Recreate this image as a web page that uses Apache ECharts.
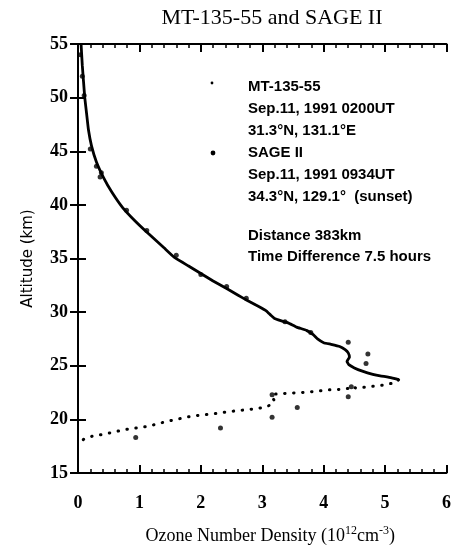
<!DOCTYPE html>
<html>
<head>
<meta charset="utf-8">
<script src="https://cdn.jsdelivr.net/npm/echarts@6/dist/echarts.min.js"></script>
<style>html,body{margin:0;padding:0;background:#fff}#chart{width:454px;height:550px}</style>
</head>
<body>
<div id="chart"></div>
<script>
// MT-135-55 profile, upper (continuous) part: [ozone density 1e12 cm^-3, altitude km]
const mtUpper = [[0.05,55],[0.07,53],[0.09,51.5],[0.11,50],[0.14,48.5],[0.17,47],[0.22,45.5],[0.3,44],[0.42,42.5],[0.55,41.2],[0.72,39.8],[0.93,38.5],[1.15,37.3],[1.4,36],[1.57,35.1],[1.8,34.3],[2.0,33.6],[2.2,32.9],[2.42,32.2],[2.6,31.6],[2.75,31.1],[2.95,30.5],[3.07,30.1],[3.14,29.7],[3.2,29.4],[3.3,29.2],[3.42,29.0],[3.56,28.6],[3.72,28.3],[3.83,27.9],[3.9,27.5],[4.0,27.15],[4.12,27.0],[4.26,26.8],[4.35,26.5],[4.4,26.2],[4.42,25.8],[4.38,25.4],[4.41,25.1],[4.5,24.8],[4.63,24.5],[4.8,24.2],[4.92,24.05],[5.05,23.95],[5.16,23.8],[5.22,23.7]];
// MT-135-55 profile, lower (dotted) part
const mtLower = [[5.22,23.7],[5.2,23.5],[5.1,23.35],[4.97,23.2],[4.82,23.1],[4.67,23.0],[4.53,22.9],[4.45,23.1],[4.42,22.9],[4.26,22.8],[4.07,22.75],[3.85,22.6],[3.64,22.5],[3.46,22.45],[3.31,22.4],[3.2,22.35],[3.15,22.1],[3.2,21.75],[3.15,21.4],[3.06,21.15],[2.9,21.0],[2.74,20.9],[2.58,20.8],[2.42,20.7],[2.24,20.55],[2.08,20.45],[1.92,20.35],[1.76,20.2],[1.6,20.0],[1.44,19.8],[1.27,19.55],[1.15,19.35],[0.95,19.2],[0.76,19.05],[0.57,18.8],[0.4,18.6],[0.24,18.45],[0.11,18.2],[0.04,17.95]];
// SAGE II points
const sage = [[4.4,27.2],[4.72,26.1],[4.69,25.2],[4.4,22.1],[3.57,21.1],[3.16,20.2],[2.32,19.2],[0.94,18.3],[3.16,22.3],[4.45,23.05],[3.79,28.1],[3.37,29.1],[2.74,31.3],[2.42,32.4],[2.0,33.5],[1.6,35.3],[1.12,37.6],[0.79,39.5],[0.36,42.6],[0.38,43.0],[0.3,43.6],[0.2,45.2],[0.1,50.2],[0.07,52],[0.04,54]];
const xTicks = [0,1,2,3,4,5,6];
const yTicks = [15,20,25,30,35,40,45,50,55];
const titleText = 'MT-135-55 and SAGE II';
const legend1 = ['MT-135-55','Sep.11, 1991 0200UT','31.3°N, 131.1°E'];
const legend2 = ['SAGE II','Sep.11, 1991 0934UT','34.3°N, 129.1°  (sunset)'];
const legend3 = ['Distance 383km','Time Difference 7.5 hours'];

const chart = echarts.init(document.getElementById('chart'));
const serif = 'Liberation Serif';
const xMin = xTicks[0], xMax = xTicks[xTicks.length-1];
const yMin = yTicks[0], yMax = yTicks[yTicks.length-1];
const axisLine = {show:true, lineStyle:{color:'#000', width:2}};
const majorTick = {inside:true, length:8, lineStyle:{color:'#000', width:2}};
const tickLabel = {color:'#000', fontFamily:serif, fontWeight:'bold', fontSize:18};
const legFont = 'bold 15px "Liberation Sans"';
function minorX(pos){
  return {type:'value', min:xMin, max:xMax, interval:0.2, position:pos,
    axisLine:{show:false}, axisTick:{inside:true, length:4, lineStyle:{color:'#000', width:1.5}},
    splitLine:{show:false}, axisLabel:{show:false}};
}

chart.setOption({
  animation:false,
  backgroundColor:'#fff',
  title:{text:titleText, left:267, top:2, textAlign:'center',
    textStyle:{fontFamily:serif, fontSize:22, fontWeight:'normal', color:'#000'}},
  grid:{left:78, right:4, top:44, bottom:73},
  xAxis:[
    {type:'value', min:xMin, max:xMax, interval:1, position:'bottom',
     axisLine:axisLine, axisTick:majorTick, splitLine:{show:false},
     axisLabel:Object.assign({margin:21}, tickLabel),
     name:'{n|Ozone Number Density (10}{s|12}{n|cm}{s|-3}{n|)}', nameLocation:'middle', nameGap:52,
     nameTextStyle:{padding:[0,0,0,16], rich:{
       n:{fontFamily:serif, fontSize:18, color:'#000', verticalAlign:'bottom', lineHeight:20},
       s:{fontFamily:serif, fontSize:12, color:'#000', verticalAlign:'top', lineHeight:20}}}},
    {type:'value', min:xMin, max:xMax, interval:1, position:'top',
     axisLine:axisLine, axisTick:majorTick, splitLine:{show:false}, axisLabel:{show:false}},
    minorX('bottom'),
    minorX('top')
  ],
  yAxis:[
    {type:'value', min:yMin, max:yMax, interval:5, position:'left',
     axisLine:axisLine, axisTick:majorTick,
     splitLine:{show:false}, axisLabel:Object.assign({margin:10, padding:[8,0,0,0]}, tickLabel),
     name:'Altitude (km)', nameLocation:'middle', nameGap:42, nameRotate:90,
     nameTextStyle:{fontFamily:'DejaVu Sans', fontSize:15, color:'#000'}},
    {type:'value', min:yMin, max:yMax, interval:5, position:'right',
     axisLine:axisLine, axisTick:majorTick,
     splitLine:{show:false}, axisLabel:{show:false}}
  ],
  graphic:[
    {type:'circle', shape:{cx:212, cy:83, r:1.4}, style:{fill:'#000'}},
    {type:'circle', shape:{cx:213, cy:153, r:2.4}, style:{fill:'#000'}},
    {type:'text', x:248, y:76, style:{text:legend1.join('\n'), font:legFont, lineHeight:22, fill:'#000', verticalAlign:'top'}},
    {type:'text', x:248, y:142, style:{text:legend2.join('\n'), font:legFont, lineHeight:22, fill:'#000', verticalAlign:'top'}},
    {type:'text', x:248, y:225, style:{text:legend3.join('\n'), font:legFont, lineHeight:21, fill:'#000', verticalAlign:'top'}}
  ],
  series:[
    {name:'MT-135-55', type:'line', data:mtUpper, showSymbol:false, smooth:0.1,
     lineStyle:{color:'#000', width:2.8}},
    {name:'MT-135-55 (lower)', type:'line', data:mtLower, showSymbol:false,
     lineStyle:{color:'#000', width:3, type:[0.5,8.5], cap:'round'}},
    {name:'SAGE II', type:'scatter', data:sage, symbolSize:5, itemStyle:{color:'#000'}}
  ]
});
</script>
</body>
</html>
